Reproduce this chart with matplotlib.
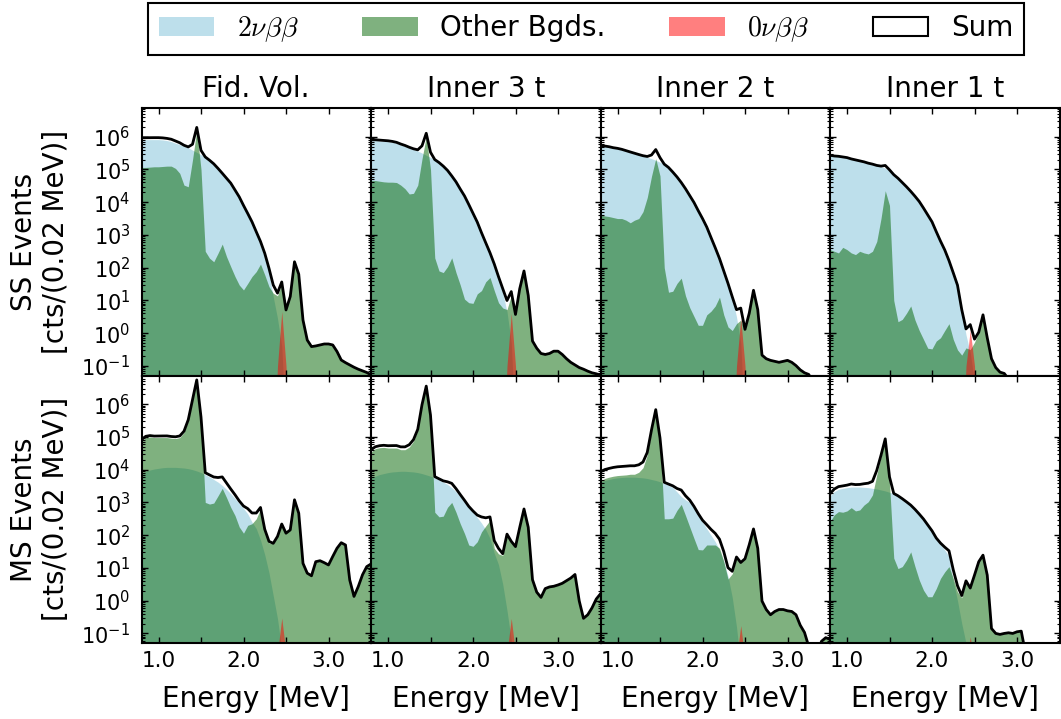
import numpy as np
import matplotlib
matplotlib.use("Agg")
import matplotlib.pyplot as plt
from matplotlib.patches import Patch
from matplotlib.ticker import LogLocator

plt.rcParams.update({
    "font.family": ["DejaVu Sans"],
    "mathtext.fontset": "cm",
    "axes.unicode_minus": False,
    "xtick.direction": "in", "ytick.direction": "in",
    "xtick.top": True, "ytick.right": True,
    "xtick.major.size": 4.5, "ytick.major.size": 4.5,
    "xtick.minor.size": 2.5, "ytick.minor.size": 2.5,
    "xtick.major.width": 1.0, "ytick.major.width": 1.0,
    "ytick.minor.width": 0.8,
    "axes.linewidth": 1.5,
})

# energy nodes [MeV]
energy = np.round(np.arange(0.80, 3.501, 0.05), 2)
red_energy = [2.40, 2.45, 2.50]

# values are log10(counts per 0.02 MeV)
# 2nu values run from 0.80 to 2.50 MeV (zero above)
ss_fid_2nu = [5.91, 5.91, 5.91, 5.91, 5.91, 5.90, 5.88, 5.85, 5.80, 5.76,
              5.71, 5.66, 5.59, 5.52, 5.45, 5.38, 5.28, 5.17, 5.03, 4.88,
              4.73, 4.58, 4.37, 4.16, 3.90, 3.65, 3.39, 3.07, 2.70, 2.33,
              1.84, 1.11, 0.45, -0.40, -3.0]
ss_fid_bg = [5.06, 5.06, 5.07, 5.08, 5.08, 5.09, 5.10, 5.10, 5.03, 4.88,
             4.52, 4.47, 5.29, 6.20, 5.00, 2.50, 2.29, 2.18, 2.44, 2.72,
             2.34, 2.03, 1.73, 1.47, 1.32, 1.52, 1.73, 1.88, 2.11, 1.78,
             1.42, 1.22, 1.14, 1.50, 0.70, 1.12, 2.18, 1.80, 0.40, -0.21,
             -0.41, -0.39, -0.36, -0.33, -0.33, -0.36, -0.56, -0.82, -0.90, -0.97,
             -1.04, -1.10, -1.15, -1.20, -1.27]
ss_fid_0nu = [-1.0, 0.66, -1.0]

ms_fid_2nu = [3.89, 3.95, 3.99, 4.02, 4.04, 4.06, 4.07, 4.07, 4.07, 4.06,
              4.05, 4.03, 4.00, 3.96, 3.91, 3.85, 3.78, 3.70, 3.62, 3.52,
              3.40, 3.27, 3.12, 2.97, 2.82, 2.65, 2.40, 2.20, 1.85, 1.40,
              0.85, 0.15, -0.55, -1.50, -3.0]
ms_fid_bg = [4.87, 4.98, 5.00, 4.98, 4.98, 4.98, 4.98, 4.96, 4.95, 4.98,
             5.14, 5.51, 6.13, 6.74, 5.60, 3.00, 2.95, 2.98, 3.20, 3.43,
             3.15, 2.85, 2.60, 2.25, 2.06, 2.30, 2.35, 2.50, 2.80, 2.10,
             1.76, 1.74, 1.96, 2.34, 2.06, 2.16, 3.08, 2.67, 1.14, 0.84,
             0.76, 1.19, 1.22, 1.16, 1.09, 1.35, 1.60, 1.77, 1.70, 0.63,
             0.13, 0.43, 0.79, 1.04, 1.12]
ms_fid_0nu = [-1.6, -0.53, -1.6]

ss_3t_2nu = [5.88, 5.88, 5.87, 5.86, 5.85, 5.83, 5.80, 5.75, 5.71, 5.66,
             5.61, 5.56, 5.50, 5.43, 5.37, 5.30, 5.21, 5.10, 4.97, 4.80,
             4.62, 4.40, 4.19, 3.93, 3.66, 3.39, 3.06, 2.73, 2.37, 2.04,
             1.65, 1.23, 0.66, -0.30, -3.0]
ss_3t_bg = [4.66, 4.66, 4.64, 4.62, 4.61, 4.61, 4.60, 4.52, 4.41, 4.25,
            4.27, 4.52, 5.32, 6.00, 5.00, 2.30, 1.90, 1.85, 2.03, 2.30,
            1.85, 1.47, 1.04, 0.93, 0.91, 1.20, 1.30, 1.57, 1.70, 1.30,
            0.93, 0.77, 0.72, 1.15, 0.56, 1.36, 1.90, 1.15, -0.24, -0.46,
            -0.62, -0.65, -0.62, -0.55, -0.55, -0.65, -0.78, -0.89, -0.97, -1.05,
            -1.10, -1.16, -1.21, -1.24, -1.28]
ss_3t_0nu = [-1.0, 0.60, -1.0]

ms_3t_2nu = [3.74, 3.80, 3.85, 3.88, 3.91, 3.93, 3.94, 3.95, 3.95, 3.94,
             3.93, 3.91, 3.88, 3.84, 3.80, 3.75, 3.69, 3.62, 3.55, 3.45,
             3.33, 3.18, 3.02, 2.85, 2.70, 2.54, 2.37, 2.17, 1.90, 1.45,
             1.10, 0.50, -0.30, -1.20, -3.0]
ms_3t_bg = [4.54, 4.64, 4.67, 4.68, 4.66, 4.66, 4.66, 4.61, 4.61, 4.69,
            4.87, 5.21, 5.98, 6.55, 5.66, 2.70, 2.56, 2.58, 2.85, 3.00,
            2.70, 2.35, 2.05, 1.70, 1.66, 1.80, 2.10, 2.28, 2.45, 1.60,
            1.43, 1.38, 2.03, 1.81, 1.65, 2.24, 2.80, 2.24, 0.64, 0.26,
            0.10, 0.37, 0.42, 0.44, 0.48, 0.53, 0.61, 0.69, 0.80, -0.01,
            -0.54, -0.43, -0.22, 0.05, 0.21]
ms_3t_0nu = [-1.6, -0.54, -1.6]

ss_2t_2nu = [5.72, 5.71, 5.69, 5.66, 5.64, 5.61, 5.57, 5.53, 5.49, 5.45,
             5.41, 5.37, 5.33, 5.28, 5.22, 5.16, 5.06, 4.92, 4.77, 4.60,
             4.41, 4.20, 3.99, 3.74, 3.50, 3.24, 2.92, 2.60, 2.25, 1.88,
             1.50, 1.07, 0.50, -0.30, -3.0]
ss_2t_bg = [3.61, 3.58, 3.56, 3.53, 3.50, 3.50, 3.45, 3.37, 3.45, 3.50,
            3.71, 4.14, 4.79, 5.33, 4.80, 2.00, 1.25, 1.28, 1.52, 1.68,
            1.14, 0.78, 0.51, 0.24, 0.24, 0.56, 0.67, 0.83, 1.10, 0.56,
            0.19, 0.08, 0.29, 0.40, 0.08, 0.61, 1.31, 0.72, -0.67, -0.78,
            -0.83, -0.86, -0.89, -0.86, -0.83, -0.89, -0.99, -1.12, -1.21, -1.26,
            -1.50, -1.70, -1.80, -1.90, -2.00]
ss_2t_0nu = [-1.0, 0.45, -1.0]

ms_2t_2nu = [3.62, 3.67, 3.70, 3.73, 3.75, 3.76, 3.77, 3.77, 3.77, 3.76,
             3.75, 3.73, 3.70, 3.67, 3.63, 3.58, 3.52, 3.46, 3.32, 3.18,
             3.08, 3.00, 2.83, 2.62, 2.40, 2.20, 2.00, 1.80, 1.55, 1.20,
             0.75, 0.10, -0.80, -2.00, -3.0]
ms_2t_bg = [3.65, 3.73, 3.77, 3.80, 3.82, 3.83, 3.84, 3.86, 3.86, 3.92,
            4.06, 4.45, 5.20, 5.83, 4.95, 2.50, 2.50, 2.52, 2.76, 2.94,
            2.60, 2.25, 1.90, 1.56, 1.55, 1.70, 1.70, 1.70, 1.60, 1.20,
            0.66, 0.82, 1.33, 1.16, 1.28, 1.71, 2.19, 1.60, -0.01, -0.27,
            -0.43, -0.33, -0.27, -0.27, -0.31, -0.33, -0.43, -0.75, -0.97, -1.40,
            -1.60, -1.60, -1.24, -1.13, -1.18]
ms_2t_0nu = [-1.8, -0.76, -1.8]

ss_1t_2nu = [5.43, 5.41, 5.40, 5.38, 5.36, 5.32, 5.29, 5.26, 5.23, 5.19,
             5.16, 5.12, 5.09, 5.04, 4.95, 4.84, 4.73, 4.60, 4.47, 4.33,
             4.18, 4.02, 3.82, 3.61, 3.40, 3.10, 2.81, 2.54, 2.21, 1.84,
             1.46, 0.70, -0.05, -0.60, -1.50]
ss_1t_bg = [2.55, 2.50, 2.45, 2.62, 2.55, 2.45, 2.40, 2.50, 2.45, 2.42,
            2.50, 2.80, 3.50, 4.35, 3.90, 1.00, 0.35, 0.42, 0.61, 0.83,
            0.40, 0.08, -0.19, -0.46, -0.48, -0.24, -0.14, 0.08, 0.29, -0.19,
            -0.51, -0.67, -0.45, -0.50, -0.28, 0.03, 0.56, -0.14, -0.78, -1.05,
            -1.19, -1.23, -1.40, -1.60, -1.80, -2.00, -2.20, -2.40, -2.60, -2.80,
            -3.00, -3.00, -3.00, -3.00, -3.00]
ss_1t_0nu = [-1.0, 0.10, -1.0]

ms_1t_2nu = [3.20, 3.33, 3.40, 3.43, 3.45, 3.47, 3.47, 3.47, 3.46, 3.45,
             3.43, 3.41, 3.38, 3.35, 3.31, 3.27, 3.20, 3.11, 3.01, 2.90,
             2.78, 2.64, 2.49, 2.31, 2.13, 1.90, 1.72, 1.55, 1.35, 0.60,
             0.00, -0.70, -1.30, -2.50, -3.0]
ms_1t_bg = [2.41, 2.62, 2.72, 2.70, 2.74, 2.84, 2.74, 2.77, 2.92, 3.02,
            3.23, 3.84, 4.40, 4.93, 3.60, 1.30, 0.98, 1.04, 1.24, 1.49,
            1.04, 0.63, 0.32, 0.12, 0.12, 0.37, 0.68, 0.88, 1.04, 0.68,
            0.27, 0.09, 0.60, 0.37, 0.78, 1.19, 1.39, 0.78, -0.85, -1.00,
            -1.03, -1.00, -0.98, -1.00, -0.95, -0.93, -1.60, -2.50, -3.00, -3.00,
            -3.00, -3.00, -3.00, -3.00, -3.00]
ms_1t_0nu = [-2.0, -1.10, -2.0]

col_titles = ["Fid. Vol.", "Inner 3 t", "Inner 2 t", "Inner 1 t"]
row_labels = ["SS Events\n[cts/(0.02 MeV)]", "MS Events\n[cts/(0.02 MeV)]"]
xtick_vals = [1.0, 1.5, 2.0, 2.5, 3.0]
xtick_text = ["1.0", "", "2.0", "", "3.0"]

panels = [
    [(ss_fid_2nu, ss_fid_bg, ss_fid_0nu), (ss_3t_2nu, ss_3t_bg, ss_3t_0nu),
     (ss_2t_2nu, ss_2t_bg, ss_2t_0nu), (ss_1t_2nu, ss_1t_bg, ss_1t_0nu)],
    [(ms_fid_2nu, ms_fid_bg, ms_fid_0nu), (ms_3t_2nu, ms_3t_bg, ms_3t_0nu),
     (ms_2t_2nu, ms_2t_bg, ms_2t_0nu), (ms_1t_2nu, ms_1t_bg, ms_1t_0nu)],
]

W, H = 1061, 719
fig = plt.figure(figsize=(W / 100, H / 100), dpi=100)

left0 = 141.5
pw = 229.5
row_top = [108.0, 375.5]
ph = 267.5
floor = 1e-4

for r in range(2):
    for c in range(4):
        ax = fig.add_axes([(left0 + c * pw) / W, 1 - (row_top[r] + ph) / H, pw / W, ph / H])
        two, bg, zero = panels[r][c]
        b = np.zeros(len(energy))
        b[:len(two)] = np.power(10.0, np.array(two))
        g = np.power(10.0, np.array(bg))
        z = np.zeros(len(energy))
        for e, v in zip(red_energy, zero):
            z[np.isclose(energy, e)] = 10.0 ** v
        s = b + g + z
        ax.fill_between(energy, floor, np.maximum(b, floor), color="lightblue", alpha=0.8, lw=0)
        ax.fill_between(energy, floor, g, color="darkgreen", alpha=0.5, lw=0)
        ax.fill_between(energy, floor, np.maximum(z, floor), color="red", alpha=0.5, lw=0)
        ax.plot(energy, s, color="black", lw=2.0)
        ax.set_yscale("log")
        ax.set_xlim(0.8, 3.5)
        ax.set_ylim(0.051, 7.5e6)
        ax.yaxis.set_major_locator(LogLocator(base=10, numticks=20))
        ax.yaxis.set_minor_locator(LogLocator(base=10, subs=np.arange(2, 10), numticks=20))
        ax.set_xticks(xtick_vals)
        ax.tick_params(axis="x", which="major", labelsize=15.5, pad=6)
        ax.tick_params(axis="y", which="major", labelsize=15, pad=8)
        if r == 1:
            ax.set_xticklabels(xtick_text)
            ax.set_xlabel("Energy [MeV]", fontsize=20, labelpad=10)
        else:
            ax.set_xticklabels([])
            ax.set_title(col_titles[c], fontsize=20, pad=8)
        if c == 0:
            ax.set_ylabel(row_labels[r], fontsize=20, labelpad=8)
        else:
            ax.tick_params(axis="y", which="both", labelleft=False)

handles = [
    Patch(facecolor="lightblue", alpha=0.8, edgecolor="none"),
    Patch(facecolor="darkgreen", alpha=0.5, edgecolor="none"),
    Patch(facecolor="red", alpha=0.5, edgecolor="none"),
    Patch(facecolor="white", edgecolor="black", linewidth=1.5),
]
labels = [r"$2\nu\beta\beta$", "Other Bgds.", r"$0\nu\beta\beta$", "Sum"]
leg = fig.legend(handles, labels, loc="upper center", bbox_to_anchor=(586 / W, 1 - 3 / H),
                 ncol=4, fontsize=20, frameon=True, fancybox=False, framealpha=1,
                 borderaxespad=0, handlelength=2.0, handletextpad=0.8, columnspacing=2.3,
                 borderpad=0.4)
leg.get_frame().set_edgecolor("black")
leg.get_frame().set_linewidth(1.5)

fig.savefig("out.png", dpi=100, facecolor="white")
